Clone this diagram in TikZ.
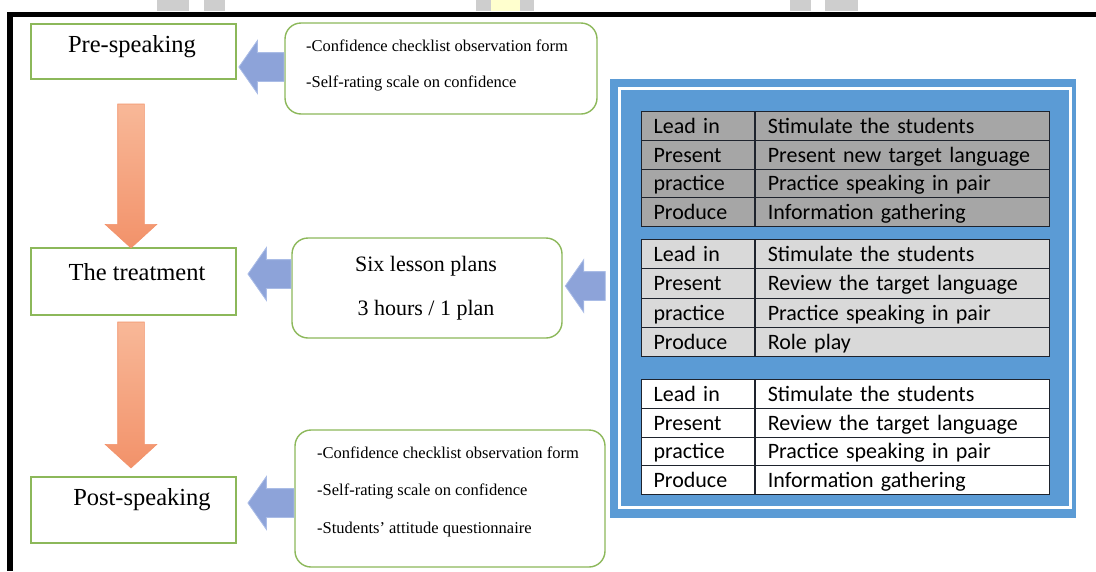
\documentclass[tikz,border=0pt]{standalone}
\usepackage{fontspec}
\setmainfont{Liberation Serif}
\newfontfamily\calib{Carlito}
\usetikzlibrary{shapes.arrows,calc,positioning}

\definecolor{boxgreen}{RGB}{140,184,90}
\definecolor{arrowblue}{RGB}{141,163,217}
\definecolor{arrowblueline}{RGB}{170,188,230}
\definecolor{arrowtop}{RGB}{248,184,152}
\definecolor{arrowbot}{RGB}{242,146,106}
\definecolor{panelblue}{RGB}{91,155,213}
\definecolor{tabdark}{RGB}{166,166,166}
\definecolor{tablight}{RGB}{217,217,217}
\definecolor{tabline}{RGB}{30,35,45}
\definecolor{markgray}{RGB}{206,206,206}
\definecolor{markyellow}{RGB}{255,255,206}

\tikzset{
  stagebox/.style={draw=boxgreen, line width=1.4pt, fill=white, minimum width=205pt, inner sep=0pt},
  stagetext/.style={font=\fontsize{24.5}{28}\selectfont, inner sep=0pt},
  notebox/.style={draw=boxgreen, line width=1.4pt, fill=white, rounded corners=16pt, inner sep=0pt},
  notetext/.style={font=\fontsize{16.5}{19}\selectfont, anchor=west, inner sep=0pt},
  bluearrow/.style={single arrow, draw=arrowblueline, fill=arrowblue, line width=0.8pt,
    minimum width=52pt, single arrow head extend=12pt, single arrow tip angle=110,
    inner xsep=0pt, inner ysep=14pt, shape border rotate=180, anchor=tail},
  orangearrow/.style={single arrow, draw=arrowbot, top color=arrowtop, bottom color=arrowbot,
    line width=0.6pt, minimum width=51pt, single arrow head extend=12.5pt,
    single arrow tip angle=95, inner sep=13pt, shape border rotate=270, anchor=tail},
  cell/.style={draw=tabline, line width=1.2pt, minimum height=28.75pt, inner xsep=12pt,
    inner ysep=0pt, align=left, text height=18pt, text depth=3pt, anchor=north west,
    font=\calib\fontsize{22}{26}\selectfont},
  stagecell/.style={cell, text width=89pt},
  taskcell/.style={cell, text width=270pt},
}

\begin{document}
\begin{tikzpicture}[x=1pt,y=-1pt]
\useasboundingbox (0,0) rectangle (1096,571);

% marks above the frame
\fill[markgray] (157,0) rectangle (189,11);
\fill[markgray] (204,0) rectangle (225,11);
\fill[markgray] (476,0) rectangle (491,11);
\fill[markyellow] (491,0) rectangle (520,11);
\fill[markgray] (520,0) rectangle (534,11);
\fill[markgray] (790,0) rectangle (811,11);
\fill[markgray] (825,0) rectangle (858,11);

% frame
\fill[black] (7,12) rectangle (1096,17);
\fill[black] (7,12) rectangle (13,571);

% stages
\node[stagebox, minimum height=55pt] (pre) at (133.5,51.5) {};
\node[stagebox, minimum height=67pt] (treat) at (133.5,281.5) {};
\node[stagebox, minimum height=66pt] (post) at (133.5,510) {};
\node[stagetext] (pretext) at (132,47) {Pre-speaking};
\node[stagetext] (treattext) at (137,272) {The treatment};
\node[stagetext] (posttext) at (142,500) {Post-speaking};

% notes
\node[notebox, minimum width=312pt, minimum height=91pt] (note1) at (441,68.5) {};
\node[notebox, minimum width=270pt, minimum height=100pt] (note2) at (427,288) {};
\node[notebox, minimum width=310pt, minimum height=137pt] (note3) at (450,498.5) {};

\node[notetext] (n1a) at (306,46) {-Confidence checklist observation form};
\node[notetext] (n1b) at (306,83) {-Self-rating scale on confidence};
\node[font=\fontsize{22}{26}\selectfont] (n2a) at (426,266) {Six lesson plans};
\node[font=\fontsize{22}{26}\selectfont] (n2b) at (426,310) {3 hours / 1 plan};
\foreach \i/\y/\txt in {a/453/-Confidence checklist observation form,
    b/491/-Self-rating scale on confidence,
    c/530/-Students' attitude questionnaire}
  \node[notetext] (n3\i) at (317,\y) {\txt};

% stage arrows
\node[orangearrow, minimum height=144pt] (down1) at ($(pre.south)+(-2.5,24)$) {};
\node[orangearrow, minimum height=146pt] (down2) at ($(treat.south)+(-2.5,6)$) {};

% note arrows
\node[bluearrow, minimum height=45pt] (left1) at ($(note1.west)+(0,-1.5)$) {};
\node[bluearrow, minimum height=43pt] (left2) at ($(note2.west)+(0,-14)$) {};
\node[bluearrow, minimum height=46pt] (left3) at ($(note3.west)+(0,4.5)$) {};

% lesson plan panel
\fill[panelblue] (610,79) rectangle (1076,518);
\draw[white, line width=3pt] (619,88.5) rectangle (1070,507);
\node[bluearrow, minimum height=40pt] (left4) at ($(note2.east)+(43,-2)$) {};

\foreach \r/\stage/\task in {0/Lead in/Stimulate the students,
    1/Present/Present new target language,
    2/practice/Practice speaking in pair,
    3/Produce/Information gathering}{
  \node[stagecell, fill=tabdark] (pa\r) at (641,{111+\r*28.75}) {\stage};
  \node[taskcell, fill=tabdark] (pb\r) at (pa\r.north east) {\task};
}
\foreach \r/\stage/\task in {0/Lead in/Stimulate the students,
    1/Present/Review the target language,
    2/practice/Practice speaking in pair,
    3/Produce/Role play}{
  \node[stagecell, fill=tablight, minimum height=29.25pt] (qa\r) at (641,{239+\r*29.25}) {\stage};
  \node[taskcell, fill=tablight, minimum height=29.25pt] (qb\r) at (qa\r.north east) {\task};
}
\foreach \r/\stage/\task in {0/Lead in/Stimulate the students,
    1/Present/Review the target language,
    2/practice/Practice speaking in pair,
    3/Produce/Information gathering}{
  \node[stagecell, fill=white] (ra\r) at (641,{379+\r*28.75}) {\stage};
  \node[taskcell, fill=white] (rb\r) at (ra\r.north east) {\task};
}
\end{tikzpicture}
\end{document}
